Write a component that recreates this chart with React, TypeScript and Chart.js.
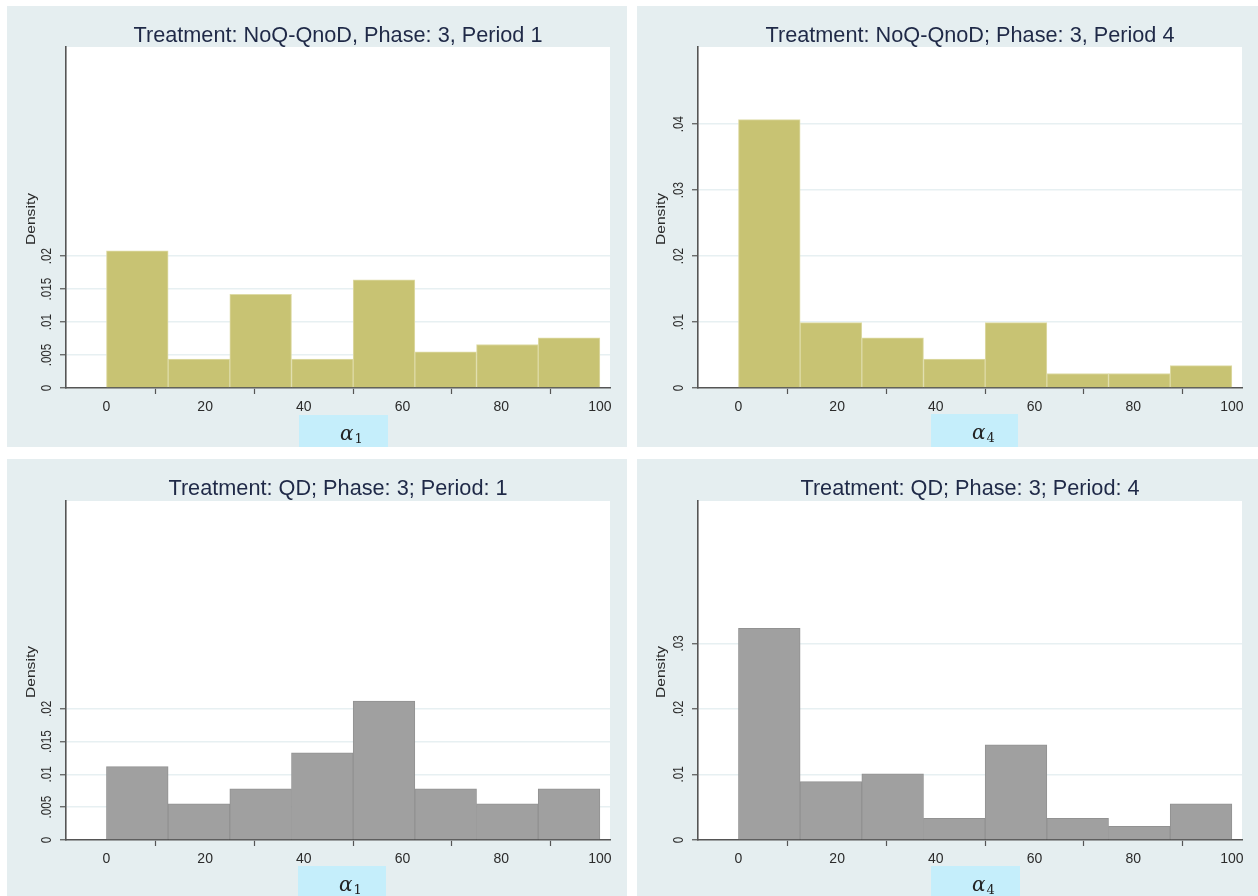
import React, { useEffect, useRef } from "react";
import { Chart, registerables } from "chart.js";

Chart.register(...registerables);

// ---------- data ----------
const binCenters = [6.25, 18.75, 31.25, 43.75, 56.25, 68.75, 81.25, 93.75];
const xTickValues = [0, 20, 40, 60, 80, 100];
const xTickLabels = ["0", "20", "40", "60", "80", "100"];

const yTicksFine = [0, 0.005, 0.01, 0.015, 0.02];
const yLabelsFine = ["0", ".005", ".01", ".015", ".02"];
const yTicksNoQP4 = [0, 0.01, 0.02, 0.03, 0.04];
const yLabelsNoQP4 = ["0", ".01", ".02", ".03", ".04"];
const yTicksQDP4 = [0, 0.01, 0.02, 0.03];
const yLabelsQDP4 = ["0", ".01", ".02", ".03"];

const densityNoQP1 = [0.0208, 0.0044, 0.0142, 0.0044, 0.0164, 0.0055, 0.0066, 0.0076];
const densityNoQP4 = [0.0407, 0.0099, 0.0076, 0.0044, 0.0099, 0.0022, 0.0022, 0.0034];
const densityQDP1 = [0.0112, 0.0055, 0.0078, 0.0133, 0.0212, 0.0078, 0.0055, 0.0078];
const densityQDP4 = [0.0323, 0.0089, 0.0101, 0.0033, 0.0145, 0.0033, 0.0021, 0.0055];

const panelTitles = [
  "Treatment: NoQ-QnoD, Phase: 3, Period 1",
  "Treatment: NoQ-QnoD; Phase: 3, Period 4",
  "Treatment: QD; Phase: 3; Period: 1",
  "Treatment: QD; Phase: 3; Period: 4",
];
const axisSymbol = "α";
const axisSubscripts = ["1", "4", "1", "4"];
const yAxisTitle = "Density";

const xMin = -8.2;
const xMax = 102.05;
const yMax = 0.0517;

// ---------- styles / layout ----------
const PANEL_BG = "#e5eef0";
const GRID = "#e7f0f2";
const AXIS = "#555555";
const TICK_TEXT = "#2b2b2b";
const TITLE_TEXT = "#1f2947";
const LABEL_BOX = "#c5eefb";
const FONT = '"Liberation Sans", Arial, Helvetica, sans-serif';

type Box = { x: number; y: number; w: number; h: number };
type PanelSpec = {
  box: Box;
  plot: { l: number; t: number; r: number; b: number };
  title: string;
  values: number[];
  fill: string;
  edge: string;
  yTicks: number[];
  yLabels: string[];
  sub: string;
  labelBox: Box;
  yTitleOffset: number;
};

const panels: PanelSpec[] = [
  {
    box: { x: 7, y: 6, w: 620, h: 441 },
    plot: { l: 59, t: 41, r: 603, b: 382 },
    title: panelTitles[0],
    values: densityNoQP1,
    fill: "#c8c373",
    edge: "#dedba6",
    yTicks: yTicksFine,
    yLabels: yLabelsFine,
    sub: axisSubscripts[0],
    labelBox: { x: 292, y: 409, w: 89, h: 32 },
    yTitleOffset: 34,
  },
  {
    box: { x: 637, y: 6, w: 621, h: 441 },
    plot: { l: 61, t: 41, r: 605, b: 382 },
    title: panelTitles[1],
    values: densityNoQP4,
    fill: "#c8c373",
    edge: "#dedba6",
    yTicks: yTicksNoQP4,
    yLabels: yLabelsNoQP4,
    sub: axisSubscripts[1],
    labelBox: { x: 294, y: 408, w: 87, h: 33 },
    yTitleOffset: 36,
  },
  {
    box: { x: 7, y: 459, w: 620, h: 437 },
    plot: { l: 59, t: 42, r: 603, b: 381 },
    title: panelTitles[2],
    values: densityQDP1,
    fill: "#a0a0a0",
    edge: "#929292",
    yTicks: yTicksFine,
    yLabels: yLabelsFine,
    sub: axisSubscripts[2],
    labelBox: { x: 291, y: 407, w: 88, h: 30 },
    yTitleOffset: 34,
  },
  {
    box: { x: 637, y: 459, w: 621, h: 437 },
    plot: { l: 61, t: 42, r: 605, b: 381 },
    title: panelTitles[3],
    values: densityQDP4,
    fill: "#a0a0a0",
    edge: "#929292",
    yTicks: yTicksQDP4,
    yLabels: yLabelsQDP4,
    sub: axisSubscripts[3],
    labelBox: { x: 294, y: 407, w: 89, h: 30 },
    yTitleOffset: 36,
  },
];

const decorPlugin = {
  id: "decor",
  beforeDraw(chart: any) {
    const { ctx, chartArea } = chart;
    ctx.save();
    ctx.fillStyle = PANEL_BG;
    ctx.fillRect(0, 0, chart.width, chart.height);
    ctx.fillStyle = "#ffffff";
    ctx.fillRect(
      chartArea.left,
      chartArea.top,
      chartArea.right - chartArea.left,
      chartArea.bottom - chartArea.top
    );
    ctx.restore();
  },
  afterDraw(chart: any, _args: any, opts: any) {
    const { ctx, chartArea, scales } = chart;
    const ys = scales.y;
    ctx.save();
    // title
    ctx.fillStyle = TITLE_TEXT;
    ctx.font = `21.7px ${FONT}`;
    ctx.textAlign = "center";
    ctx.textBaseline = "alphabetic";
    ctx.fillText(opts.title, (chartArea.left + chartArea.right) / 2, 35.5);

    // y tick labels (vertical, as in Stata)
    ctx.fillStyle = TICK_TEXT;
    ctx.font = `12px ${FONT}`;
    ctx.textBaseline = "middle";
    (opts.yTicks as number[]).forEach((v, i) => {
      const py = ys.getPixelForValue(v);
      ctx.save();
      ctx.translate(chartArea.left - 18.5, py);
      ctx.rotate(-Math.PI / 2);
      ctx.scale(0.97, 1.15);
      ctx.fillText(opts.yLabels[i], 0, 0);
      ctx.restore();
    });

    // y axis title
    ctx.save();
    ctx.font = `12.5px ${FONT}`;
    ctx.fillStyle = TICK_TEXT;
    ctx.translate(chartArea.left - opts.yTitleOffset, (chartArea.top + chartArea.bottom) / 2 + 1.5);
    ctx.rotate(-Math.PI / 2);
    ctx.scale(1.25, 1);
    ctx.fillText(yAxisTitle, 0, 0);
    ctx.restore();

    // x axis label box with math symbol
    const lb = opts.labelBox as Box;
    ctx.fillStyle = LABEL_BOX;
    ctx.fillRect(lb.x, lb.y, lb.w, lb.h);
    ctx.fillStyle = "#222222";
    ctx.textAlign = "left";
    ctx.textBaseline = "alphabetic";
    ctx.font = `italic 20px "DejaVu Serif", "Liberation Serif", serif`;
    const ax = lb.x + 41;
    const ay = lb.y + 25;
    ctx.fillText(axisSymbol, ax, ay);
    const aw = ctx.measureText(axisSymbol).width;
    ctx.font = `13px "DejaVu Serif", "Liberation Serif", serif`;
    ctx.fillText(opts.sub, ax + aw + 1, ay + 3);
    ctx.restore();
  },
};

function Panel({ spec }: { spec: PanelSpec }) {
  const ref = useRef<HTMLCanvasElement | null>(null);
  useEffect(() => {
    if (!ref.current) return;
    const { box, plot } = spec;
    const chart = new Chart(ref.current, {
      type: "bar",
      data: {
        datasets: [
          {
            data: binCenters.map((x, i) => ({ x, y: spec.values[i] })),
            backgroundColor: spec.fill,
            borderColor: spec.edge,
            borderWidth: 1,
            barPercentage: 1,
            categoryPercentage: 1,
          } as any,
        ],
      },
      options: {
        responsive: false,
        animation: false,
        devicePixelRatio: 1,
        layout: {
          padding: { left: 0, top: plot.t, right: box.w - plot.r, bottom: 0 },
        },
        plugins: {
          legend: { display: false },
          tooltip: { enabled: false },
          title: { display: false },
          decor: {
            title: spec.title,
            yTicks: spec.yTicks,
            yLabels: spec.yLabels,
            sub: spec.sub,
            labelBox: spec.labelBox,
            yTitleOffset: spec.yTitleOffset,
          },
        } as any,
        scales: {
          x: {
            type: "linear",
            min: xMin,
            max: xMax,
            offset: false,
            afterBuildTicks: (s: any) => {
              s.ticks = xTickValues.map((v) => ({ value: v }));
            },
            afterFit: (s: any) => {
              s.height = box.h - plot.b;
            },
            ticks: {
              color: TICK_TEXT,
              font: { family: FONT, size: 14 },
              padding: 5,
              maxRotation: 0,
              autoSkip: false,
              callback: (v: any) => {
                const i = xTickValues.indexOf(Number(v));
                return i >= 0 ? xTickLabels[i] : "";
              },
            },
            grid: {
              drawOnChartArea: false,
              drawTicks: true,
              tickLength: 6,
              tickColor: AXIS,
              tickWidth: 1.2,
            },
            border: { display: true, color: AXIS, width: 1.6 },
          },
          y: {
            type: "linear",
            min: 0,
            max: yMax,
            afterBuildTicks: (s: any) => {
              s.ticks = spec.yTicks.map((v) => ({ value: v }));
            },
            afterFit: (s: any) => {
              s.width = plot.l;
            },
            ticks: { display: false },
            grid: {
              color: GRID,
              lineWidth: 1.5,
              drawTicks: true,
              tickLength: 6,
              tickColor: AXIS,
              tickWidth: 1.2,
            },
            border: { display: true, color: AXIS, width: 1.6 },
          },
        },
      } as any,
      plugins: [decorPlugin as any],
    });
    return () => chart.destroy();
  }, [spec]);

  return (
    <canvas
      ref={ref}
      width={spec.box.w}
      height={spec.box.h}
      style={{
        position: "absolute",
        left: spec.box.x,
        top: spec.box.y,
        width: spec.box.w,
        height: spec.box.h,
      }}
    />
  );
}

export default function App() {
  return (
    <div
      style={{
        position: "absolute",
        left: 0,
        top: 0,
        width: 1258,
        height: 896,
        background: "#ffffff",
        overflow: "hidden",
      }}
    >
      {panels.map((p, i) => (
        <Panel key={i} spec={p} />
      ))}
    </div>
  );
}
